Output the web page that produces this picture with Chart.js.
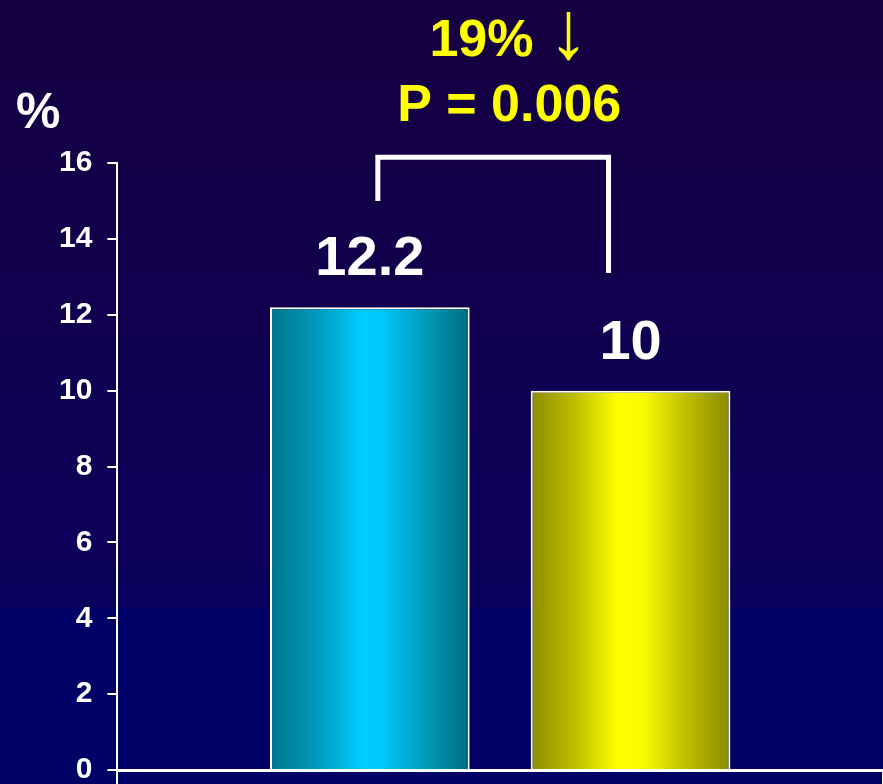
<!DOCTYPE html>
<html>
<head>
<meta charset="utf-8">
<script src="https://cdn.jsdelivr.net/npm/chart.js@4.4.1/dist/chart.umd.min.js"></script>
<style>
  html, body { margin: 0; padding: 0; background: #000066; }
  #wrap { width: 883px; height: 784px; position: relative; }
</style>
</head>
<body>
<div id="wrap"><canvas id="c"></canvas></div>
<script>
// ---- data ----
const categories = [''];
const groupNames = ['Control', 'Treatment'];
const groupValues = [12.2, 10];
const valueLabels = ['12.2', '10'];
const yTicks = [0, 2, 4, 6, 8, 10, 12, 14, 16];
const yUnit = '%';
const annotationPct = '19%';
const annotationArrow = '\u2193';
const annotationP = 'P = 0.006';
const bracketLevels = { top: 16.15, leftEnd: 15, rightEnd: 13.1 };

const FONT = '"Liberation Sans", Arial, Helvetica, sans-serif';

const gradientStops = [
  [[0, 'rgb(0,118,140)'], [0.22, 'rgb(0,150,185)'], [0.46, 'rgb(0,204,255)'], [0.56, 'rgb(0,200,250)'], [0.8, 'rgb(0,150,180)'], [1, 'rgb(0,108,128)']],
  [[0, 'rgb(140,140,0)'], [0.22, 'rgb(190,190,0)'], [0.44, 'rgb(255,255,0)'], [0.56, 'rgb(250,250,0)'], [0.8, 'rgb(185,185,0)'], [1, 'rgb(138,138,0)']]
];

const bgPlugin = {
  id: 'bg',
  beforeDraw(chart) {
    const ctx = chart.ctx;
    const w = chart.width, h = chart.height;
    const g = ctx.createLinearGradient(0, 0, 0, h);
    g.addColorStop(0, 'rgb(22,0,64)');
    g.addColorStop(0.775, 'rgb(11,0,92)');
    g.addColorStop(0.776, 'rgb(0,0,102)');
    g.addColorStop(1, 'rgb(0,0,102)');
    ctx.save();
    ctx.fillStyle = g;
    ctx.fillRect(0, 0, w, h);
    ctx.restore();
  }
};

const barGradPlugin = {
  id: 'barGrad',
  beforeDatasetsDraw(chart) {
    const ctx = chart.ctx;
    chart.data.datasets.forEach((ds, i) => {
      const meta = chart.getDatasetMeta(i);
      meta.data.forEach(el => {
        const left = el.x - el.width / 2, right = el.x + el.width / 2;
        const g = ctx.createLinearGradient(left, 0, right, 0);
        gradientStops[i].forEach(s => g.addColorStop(s[0], s[1]));
        el.options.backgroundColor = g;
      });
    });
  }
};

const labelPlugin = {
  id: 'labels',
  afterDatasetsDraw(chart) {
    const ctx = chart.ctx;
    const y = chart.scales.y;
    ctx.save();
    // value labels
    ctx.fillStyle = '#ffffff';
    ctx.font = 'bold 56px ' + FONT;
    ctx.textAlign = 'center';
    ctx.textBaseline = 'alphabetic';
    chart.data.datasets.forEach((ds, i) => {
      const el = chart.getDatasetMeta(i).data[0];
      ctx.fillText(valueLabels[i], el.x, el.y - 32);
    });
    // unit label
    ctx.textAlign = 'left';
    ctx.font = 'bold 50px ' + FONT;
    ctx.fillText(yUnit, 16, 128);
    // bracket
    const b1 = chart.getDatasetMeta(0).data[0];
    const b2 = chart.getDatasetMeta(1).data[0];
    const xl = b1.x + 8, xr = b2.x - 22;
    const yt = y.getPixelForValue(bracketLevels.top);
    ctx.strokeStyle = '#ffffff';
    ctx.lineWidth = 5;
    ctx.lineJoin = 'miter';
    ctx.beginPath();
    ctx.moveTo(xl, y.getPixelForValue(bracketLevels.leftEnd));
    ctx.lineTo(xl, yt);
    ctx.lineTo(xr, yt);
    ctx.lineTo(xr, y.getPixelForValue(bracketLevels.rightEnd));
    ctx.stroke();
    // annotation
    ctx.fillStyle = '#ffff00';
    const cx = (chart.chartArea.left + chart.chartArea.right) / 2 + 9;
    ctx.font = 'bold 52px ' + FONT;
    const wPct = ctx.measureText(annotationPct + ' ').width;
    ctx.font = '82px ' + FONT;
    const wArr = ctx.measureText(annotationArrow).width;
    const startX = cx - (wPct + wArr) / 2;
    ctx.textAlign = 'left';
    ctx.font = 'bold 52px ' + FONT;
    ctx.fillText(annotationPct, startX, 56);
    ctx.font = '82px ' + FONT;
    ctx.fillText(annotationArrow, startX + wPct, 58);
    ctx.textAlign = 'center';
    ctx.font = 'bold 52px ' + FONT;
    ctx.fillText(annotationP, cx, 121);
    ctx.restore();
  }
};

const datasets = groupNames.map((name, i) => ({
  label: name,
  data: [groupValues[i]],
  backgroundColor: '#00ccff',
  borderColor: '#ffffff',
  borderWidth: 2,
  borderSkipped: 'bottom',
  categoryPercentage: 0.681,
  barPercentage: 0.766
}));

new Chart(document.getElementById('c'), {
  type: 'bar',
  data: { labels: categories, datasets },
  options: {
    responsive: true,
    maintainAspectRatio: false,
    animation: false,
    events: [],
    layout: { padding: { left: 44, right: 0, top: 163, bottom: 0 } },
    plugins: { legend: { display: false }, tooltip: { enabled: false } },
    scales: {
      x: {
        afterFit(scale) { scale.height = 14; scale.paddingLeft = 0; scale.paddingRight = 0; },
        grid: { display: true, drawOnChartArea: false, drawTicks: true, tickLength: 14, color: '#ffffff', lineWidth: 2 },
        border: { display: true, color: '#ffffff', width: 3 },
        ticks: { display: false }
      },
      y: {
        min: 0, max: 16,
        afterBuildTicks(scale) { scale.ticks = yTicks.map(v => ({ value: v })); },
        afterFit(scale) { scale.paddingBottom = 0; scale.paddingTop = 0; },
        grid: { display: true, drawOnChartArea: false, drawTicks: true, tickLength: 10, color: '#ffffff', lineWidth: 2 },
        border: { display: true, color: '#ffffff', width: 2 },
        ticks: { color: '#ffffff', padding: 15, font: { family: FONT, size: 30, weight: 'bold' } }
      }
    }
  },
  plugins: [bgPlugin, barGradPlugin, labelPlugin]
});
</script>
</body>
</html>
